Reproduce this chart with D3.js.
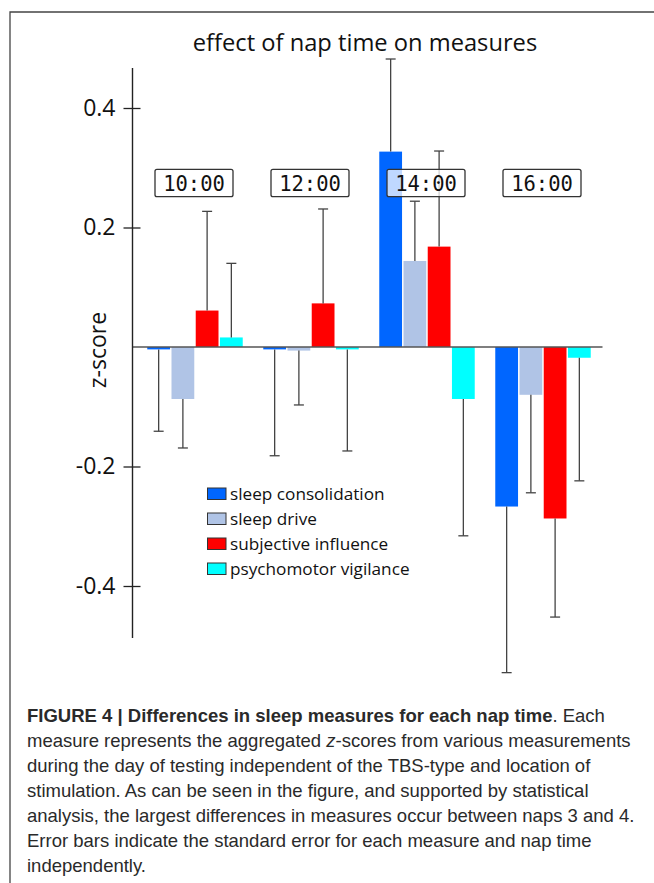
<!DOCTYPE html>
<html>
<head>
<meta charset="utf-8">
<script src="https://cdnjs.cloudflare.com/ajax/libs/d3/7.8.5/d3.min.js"></script>
<style>
body { margin: 0; background: #fff; }
svg { display: block; }
</style>
</head>
<body>
<svg id="chart" width="654" height="883"></svg>
<script>
/* chart data */
var napTimes = ["10:00", "12:00", "14:00", "16:00"];
var measures = ["sleep consolidation", "sleep drive", "subjective influence", "psychomotor vigilance"];
var measureColors = ["#0066ff", "#b0c4e6", "#ff0000", "#00ffff"];

// z-score per nap time, one array per measure
var sleepConsolidation = [-0.004, -0.004, 0.327, -0.267];
var sleepDrive = [-0.087, -0.006, 0.144, -0.080];
var subjectiveInfluence = [0.061, 0.073, 0.168, -0.287];
var psychomotorVigilance = [0.016, -0.004, -0.087, -0.018];

// standard errors
var errConsolidation = [0.137, 0.178, 0.155, 0.278];
var errDrive = [0.082, 0.091, 0.100, 0.164];
var errSubjective = [0.166, 0.158, 0.160, 0.165];
var errVigilance = [0.124, 0.170, 0.229, 0.206];

var yTicks = [0.4, 0.2, -0.2, -0.4];

var captionLines = [
	[["FIGURE 4 | Differences in sleep measures for each nap time", "b"], [". Each", ""]],
	[["measure represents the aggregated ", ""], ["z", "i"], ["-scores from various measurements", ""]],
	[["during the day of testing independent of the TBS-type and location of", ""]],
	[["stimulation. As can be seen in the figure, and supported by statistical", ""]],
	[["analysis, the largest differences in measures occur between naps 3 and 4.", ""]],
	[["Error bars indicate the standard error for each measure and nap time", ""]],
	[["independently.", ""]]
];

var values = [sleepConsolidation, sleepDrive, subjectiveInfluence, psychomotorVigilance];
var errors = [errConsolidation, errDrive, errSubjective, errVigilance];

var rows = [];
napTimes.forEach(function(t, i) {
	measures.forEach(function(m, j) {
		rows.push({ time: t, measure: m, value: values[j][i], err: errors[j][i], color: measureColors[j] });
	});
});

var svg = d3.select("#chart");
var font = "'Open Sans', sans-serif";

/* frame round the figure */
svg.append("path")
	.attr("d", "M10,883 L10,12 L654,12")
	.attr("fill", "none")
	.attr("stroke", "#444")
	.attr("stroke-width", 1.3);

var x0 = d3.scaleBand().domain(napTimes).range([133, 605]).paddingInner(0.177).paddingOuter(0.123);
var x1 = d3.scaleBand().domain(measures).range([0, x0.bandwidth()]).paddingInner(0.06);
var y = d3.scaleLinear().domain([-0.4, 0.4]).range([586, 108]);

/* bars */
svg.append("g").selectAll("rect")
	.data(rows)
	.enter().append("rect")
	.attr("x", function(d) { return x0(d.time) + x1(d.measure); })
	.attr("y", function(d) { return Math.min(y(d.value), y(0)); })
	.attr("width", x1.bandwidth())
	.attr("height", function(d) { return Math.abs(y(d.value) - y(0)); })
	.attr("fill", function(d) { return d.color; });

/* error bars go away from zero */
var eb = svg.append("g").attr("stroke", "#444").attr("stroke-width", 1.3);
rows.forEach(function(d) {
	var cx = x0(d.time) + x1(d.measure) + x1.bandwidth() / 2;
	var end = d.value >= 0 ? d.value + d.err : d.value - d.err;
	eb.append("line")
		.attr("x1", cx).attr("x2", cx)
		.attr("y1", y(d.value)).attr("y2", y(end));
	eb.append("line")
		.attr("x1", cx - 5).attr("x2", cx + 5)
		.attr("y1", y(end)).attr("y2", y(end));
});

/* zero line */
svg.append("line")
	.attr("x1", 133).attr("x2", 602.5)
	.attr("y1", y(0)).attr("y2", y(0))
	.attr("stroke", "#555")
	.attr("stroke-width", 1.4);

/* y axis */
var yAxis = d3.axisLeft(y)
	.tickValues(yTicks)
	.tickSize(0)
	.tickPadding(17)
	.tickFormat(function(d) { return d.toFixed(1); });

var ax = svg.append("g")
	.attr("transform", "translate(132.5,0)")
	.call(yAxis);
ax.select(".domain").remove();
ax.append("line")
	.attr("y1", y(0.467)).attr("y2", y(-0.487))
	.attr("stroke", "#222").attr("stroke-width", 1.4);
ax.selectAll(".tick").append("line")
	.attr("x1", -9).attr("x2", 8)
	.attr("stroke", "#222").attr("stroke-width", 1.3);
ax.selectAll(".tick text")
	.attr("font-family", font)
	.attr("font-size", 23)
	.attr("fill", "#111");

svg.append("text")
	.attr("transform", "translate(106,350) rotate(-90)")
	.attr("text-anchor", "middle")
	.attr("font-family", font)
	.attr("font-size", 23)
	.attr("fill", "#111")
	.text("z-score");

/* title */
svg.append("text")
	.attr("x", 365).attr("y", 51)
	.attr("text-anchor", "middle")
	.attr("font-family", font)
	.attr("font-size", 23.7)
	.attr("fill", "#111")
	.text("effect of nap time on measures");

/* nap time boxes, drawn over the bars */
var boxes = svg.append("g").selectAll("g")
	.data(napTimes)
	.enter().append("g")
	.attr("transform", function(d) { return "translate(" + (x0(d) + x0.bandwidth() / 2 - 1) + ",183)"; });
boxes.append("rect")
	.attr("x", -39).attr("y", -13.7)
	.attr("width", 78).attr("height", 27.4)
	.attr("rx", 2)
	.attr("fill", "#fff").attr("fill-opacity", 0.75)
	.attr("stroke", "#333").attr("stroke-width", 1.3);
boxes.append("text")
	.attr("text-anchor", "middle")
	.attr("y", 7.5)
	.attr("font-family", "'DejaVu Sans Mono', monospace")
	.attr("font-size", 20.5)
	.attr("fill", "#111")
	.text(function(d) { return d; });

/* legend */
var legend = svg.append("g").selectAll("g")
	.data(measures)
	.enter().append("g")
	.attr("transform", function(d, i) { return "translate(207.5," + (488 + i * 25) + ")"; });
legend.append("rect")
	.attr("width", 18.5).attr("height", 11.5)
	.attr("fill", function(d, i) { return measureColors[i]; })
	.attr("stroke", "#333").attr("stroke-width", 1);
legend.append("text")
	.attr("x", 22.5).attr("y", 11.5)
	.attr("font-family", font)
	.attr("font-size", 17.2)
	.attr("fill", "#111")
	.text(function(d) { return d; });

/* caption */
var cap = svg.append("g")
	.attr("font-family", "'Liberation Sans', Arial, sans-serif")
	.attr("font-size", 18.5)
	.attr("fill", "#2a2a2a");
captionLines.forEach(function(line, i) {
	var t = cap.append("text").attr("x", 27).attr("y", 722 + i * 25);
	line.forEach(function(part) {
		var s = t.append("tspan").text(part[0]);
		if (part[1] == "b") s.attr("font-weight", "bold");
		if (part[1] == "i") s.attr("font-style", "italic");
	});
});
</script>
</body>
</html>
